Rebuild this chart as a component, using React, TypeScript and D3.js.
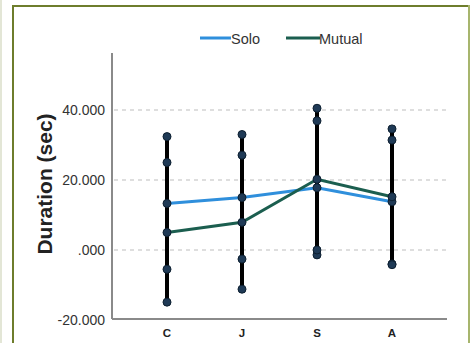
import React from "react";
import * as d3 from "d3";

const categories = ["C", "J", "S", "A"];
const soloMean = [13.3, 15.0, 17.8, 13.8];
const soloUpper = [32.4, 33.0, 36.9, 31.4];
const soloLower = [-5.5, -2.6, -1.4, -4.0];
const mutualMean = [5.0, 7.9, 20.2, 15.2];
const mutualUpper = [25.0, 27.1, 40.5, 34.6];
const mutualLower = [-14.9, -11.2, 0.0, -4.2];
const yTicks = [-20, 0, 20, 40];
const yTickLabels = ["-20.000", ".000", "20.000", "40.000"];
const seriesNames = ["Solo", "Mutual"];

const SOLO = "#2f8fdc";
const MUTUAL = "#1b5e4f";

export default function App() {
  const W = 474, H = 343;
  const x = d3.scalePoint<string>().domain(categories).range([167, 392]);
  const y = d3.scaleLinear().domain([-20, 40]).range([320, 110]);
  const axisLeft = 112, axisRight = 447, axisTop = y(56.3), axisBottom = 319;

  const line = d3.line<number>().x((_, i) => x(categories[i]) as number).y((d) => y(d));

  const series = [
    { mean: soloMean, up: soloUpper, lo: soloLower, color: SOLO },
    { mean: mutualMean, up: mutualUpper, lo: mutualLower, color: MUTUAL },
  ];

  return (
    <svg width={W} height={H} style={{ position: "absolute", left: 0, top: 0 }} fontFamily="'Liberation Sans', Arial, sans-serif">
      <rect x={0} y={0} width={W} height={H} fill="#ffffff" />
      <rect x={0} y={0} width={2} height={H} fill="#e3e6d6" />
      <line x1={13} y1={5} x2={13} y2={H} stroke="#6e7d2c" strokeWidth={2} />
      <line x1={12} y1={6} x2={470} y2={6} stroke="#6e7d2c" strokeWidth={2} />
      <line x1={469} y1={5} x2={469} y2={H} stroke="#a7b56d" strokeWidth={2} />

      {/* legend */}
      <line x1={200} x2={231} y1={38} y2={38} stroke={SOLO} strokeWidth={3} />
      <text x={231} y={43.5} fontSize={14.5} fill="#333">{seriesNames[0]}</text>
      <line x1={286} x2={320} y1={38} y2={38} stroke={MUTUAL} strokeWidth={3} />
      <text x={319} y={43.5} fontSize={14.5} fill="#333">{seriesNames[1]}</text>

      {/* gridlines */}
      {yTicks.filter((t) => t !== -20).map((t) => (
        <line key={t} x1={axisLeft + 2} x2={axisRight} y1={y(t)} y2={y(t)} stroke="#bdbdbd" strokeWidth={1.2} strokeDasharray="4,4" />
      ))}

      {/* axes */}
      <line x1={axisLeft} x2={axisLeft} y1={axisTop} y2={axisBottom} stroke="#8a8a8a" strokeWidth={2} />
      <line x1={axisLeft} x2={axisRight} y1={axisBottom} y2={axisBottom} stroke="#8a8a8a" strokeWidth={2} />

      {yTicks.map((t, i) => (
        <text key={t} x={105} y={y(t) + 5} fontSize={14} textAnchor="end" fill="#333">{yTickLabels[i]}</text>
      ))}
      {categories.map((c) => (
        <text key={c} x={x(c)} y={337} fontSize={11.5} fontWeight="bold" textAnchor="middle" fill="#222">{c}</text>
      ))}
      <text transform={`translate(52,184) rotate(-90)`} fontSize={21} fontWeight="bold" textAnchor="middle" fill="#222">Duration (sec)</text>

      {/* error bars */}
      {categories.map((c, i) => {
        const top = Math.max(soloUpper[i], mutualUpper[i]);
        const bot = Math.min(soloLower[i], mutualLower[i]);
        return <line key={c} x1={x(c)} x2={x(c)} y1={y(top)} y2={y(bot)} stroke="#000" strokeWidth={4} />;
      })}

      {/* mean lines */}
      {series.map((s, k) => (
        <path key={k} d={line(s.mean) as string} fill="none" stroke={s.color} strokeWidth={3} />
      ))}

      {/* dots */}
      {series.map((s, k) =>
        categories.map((c, i) =>
          [s.up[i], s.mean[i], s.lo[i]].map((v, j) => (
            <circle key={`${k}-${i}-${j}`} cx={x(c)} cy={y(v)} r={4} fill="#1f3a56" stroke="#0d1f30" strokeWidth={1} />
          ))
        )
      )}
    </svg>
  );
}
